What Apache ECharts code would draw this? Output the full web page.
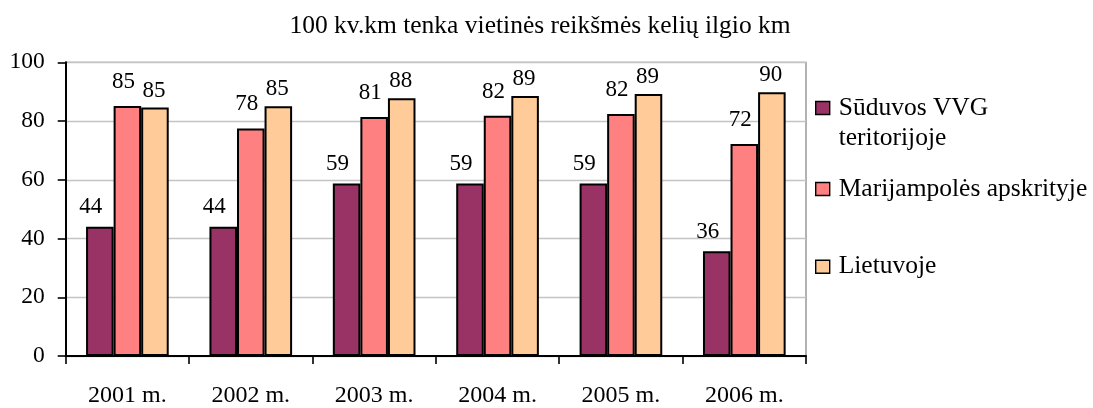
<!DOCTYPE html>
<html>
<head>
<meta charset="utf-8">
<script src="https://cdn.jsdelivr.net/npm/echarts@6/dist/echarts.min.js"></script>
<style>
html,body{margin:0;padding:0;background:#fff;}
#chart{width:1093px;height:408px;}
</style>
</head>
<body>
<div id="chart"></div>
<script>
const titleText = '100 kv.km tenka vietinės reikšmės kelių ilgio km';
const categories = ['2001 m.', '2002 m.', '2003 m.', '2004 m.', '2005 m.', '2006 m.'];
const seriesNames = ['Sūduvos VVG teritorijoje', 'Marijampolės apskrityje', 'Lietuvoje'];
const suduvos = [44, 44, 58.7, 58.7, 58.7, 35.7];
const marijampole = [85.1, 77.5, 81.4, 81.8, 82.4, 72.2];
const lietuva = [84.6, 85.0, 87.8, 88.5, 89.2, 89.8];
const yTicks = [0, 20, 40, 60, 80, 100];

const colors = ['#993366', '#FF8080', '#FFCC99'];
const FONT = "'Liberation Serif', 'DejaVu Serif', serif";
const chart = echarts.init(document.getElementById('chart'));

function bar(name, data, color, offset, dist) {
  return {
    name: name,
    type: 'bar',
    data: data,
    barGap: '0%',
    barCategoryGap: '33%',
    itemStyle: { color: color, borderColor: '#000', borderWidth: 2 },
    label: {
      show: true,
      position: 'top',
      distance: dist,
      offset: offset,
      color: '#000',
      fontFamily: FONT,
      fontSize: 23,
      formatter: p => Math.round(p.value)
    },
    emphasis: { disabled: true }
  };
}

function legendAt(name, top, extra) {
  return Object.assign({
    data: [name],
    orient: 'vertical',
    left: 815,
    top: top,
    padding: 0,
    itemWidth: 14,
    itemHeight: 13,
    icon: 'rect',
    itemStyle: { borderColor: '#000', borderWidth: 1.4 },
    selectedMode: false,
    textStyle: { fontFamily: FONT, fontSize: 25.5, lineHeight: 26, color: '#000', padding: [0, 0, 0, 4] }
  }, extra || {});
}

chart.setOption({
  animation: false,
  backgroundColor: '#fff',
  color: colors,
  title: {
    text: titleText,
    left: 540,
    textAlign: 'center',
    top: 13,
    padding: 0,
    textStyle: { fontFamily: FONT, fontSize: 25.5, fontWeight: 'normal', color: '#000' }
  },
  legend: [
    legendAt(seriesNames[0], 63, {
      formatter: () => '\nSūduvos VVG\nteritorijoje',
      textStyle: { fontFamily: FONT, fontSize: 25.5, color: '#000', lineHeight: 30, padding: [0, 0, 0, 4] }
    }),
    legendAt(seriesNames[1], 176),
    legendAt(seriesNames[2], 253.7)
  ],
  grid: {
    left: 65.7, right: 287, top: 62.3, bottom: 49.3,
    show: true, borderColor: '#808080', borderWidth: 1.2, backgroundColor: 'transparent'
  },
  xAxis: {
    type: 'category',
    data: categories,
    boundaryGap: true,
    axisLine: { lineStyle: { color: '#000', width: 2 } },
    axisTick: { show: true, interval: 0, length: 8, lineStyle: { color: '#000', width: 1.6 } },
    axisLabel: { interval: 0, margin: 28, color: '#000', fontFamily: FONT, fontSize: 24 },
    splitLine: { show: false }
  },
  yAxis: {
    type: 'value',
    min: yTicks[0],
    max: yTicks[yTicks.length - 1],
    interval: yTicks[1] - yTicks[0],
    axisLine: { show: true, lineStyle: { color: '#000', width: 2 } },
    axisTick: { show: true, length: 8, lineStyle: { color: '#000', width: 1.6 } },
    axisLabel: { margin: 21, padding: [6, 0, 0, 0], color: '#000', fontFamily: FONT, fontSize: 23.5 },
    splitLine: { show: true, lineStyle: { color: '#c4c4c4', width: 1.3 } }
  },
  series: [
    bar(seriesNames[0], suduvos, colors[0], [-9, 0], 8),
    bar(seriesNames[1], marijampole, colors[1], [-4, 0], 12.5),
    bar(seriesNames[2], lietuva, colors[2], [-1, 0], 5.5)
  ]
});
</script>
</body>
</html>
